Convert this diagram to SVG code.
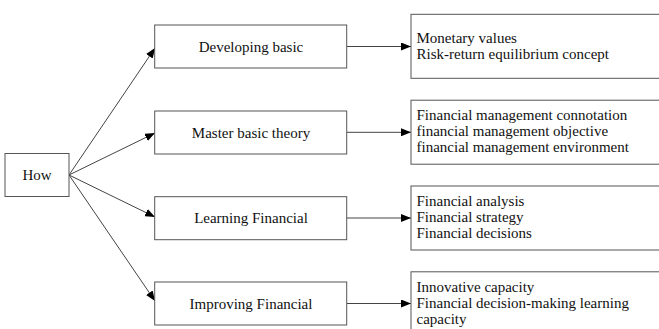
<svg xmlns="http://www.w3.org/2000/svg" width="659" height="329" viewBox="0 0 659 329">
<defs>
<marker id="ah" markerWidth="10" markerHeight="8" refX="10" refY="4" orient="auto" markerUnits="userSpaceOnUse">
<path d="M0,0 L10,4 L0,8 Z" fill="#000"/>
</marker>
<style>
.box{fill:#fff;stroke:#555;stroke-width:1}
.t{font-family:"Liberation Serif","Times New Roman",serif;font-size:15px;fill:#111}
.c{text-anchor:middle}
.e{stroke:#444;stroke-width:1;fill:none;marker-end:url(#ah)}
</style>
</defs>
<rect width="659" height="329" fill="#fff"/>
<g id="connectors">
<line class="e" x1="69" y1="175" x2="155" y2="48"/>
<line class="e" x1="69" y1="175" x2="155" y2="133"/>
<line class="e" x1="69" y1="175" x2="155" y2="217"/>
<line class="e" x1="69" y1="175" x2="155" y2="301"/>
<line class="e" x1="347" y1="46.5" x2="411" y2="46.5"/>
<line class="e" x1="347" y1="132.3" x2="411" y2="132.3"/>
<line class="e" x1="347" y1="218" x2="411" y2="218"/>
<line class="e" x1="347" y1="303.5" x2="411" y2="303.5"/>
</g>
<g id="how">
<rect class="box" x="5" y="153.5" width="64" height="43"/>
<text class="t c" x="37" y="180">How</text>
</g>
<g id="developing">
<rect class="box" x="154.7" y="25" width="192" height="43"/>
<text class="t c" x="251" y="51.5">Developing basic</text>
</g>
<g id="master">
<rect class="box" x="154.7" y="111" width="192" height="43"/>
<text class="t c" x="251" y="137.5">Master basic theory</text>
</g>
<g id="learning">
<rect class="box" x="154.7" y="196.7" width="192" height="43"/>
<text class="t c" x="251" y="223">Learning Financial</text>
</g>
<g id="improving">
<rect class="box" x="154.7" y="282" width="192" height="43"/>
<text class="t c" x="251" y="308.5">Improving Financial</text>
</g>
<g id="r1">
<rect class="box" x="411" y="14.3" width="260" height="64"/>
<text class="t" x="416.5" y="43">Monetary values</text>
<text class="t" x="416.5" y="58.5">Risk-return equilibrium concept</text>
</g>
<g id="r2">
<rect class="box" x="411" y="100.2" width="260" height="64"/>
<text class="t" x="416.5" y="120">Financial management connotation</text>
<text class="t" x="416.5" y="136">financial management objective</text>
<text class="t" x="416.5" y="152">financial management environment</text>
</g>
<g id="r3">
<rect class="box" x="411" y="186" width="260" height="64"/>
<text class="t" x="416.5" y="206">Financial analysis</text>
<text class="t" x="416.5" y="222">Financial strategy</text>
<text class="t" x="416.5" y="238">Financial decisions</text>
</g>
<g id="r4">
<rect class="box" x="411" y="271.8" width="260" height="64"/>
<text class="t" x="416.5" y="292">Innovative capacity</text>
<text class="t" x="416.5" y="308">Financial decision-making learning</text>
<text class="t" x="416.5" y="324">capacity</text>
</g>
</svg>
